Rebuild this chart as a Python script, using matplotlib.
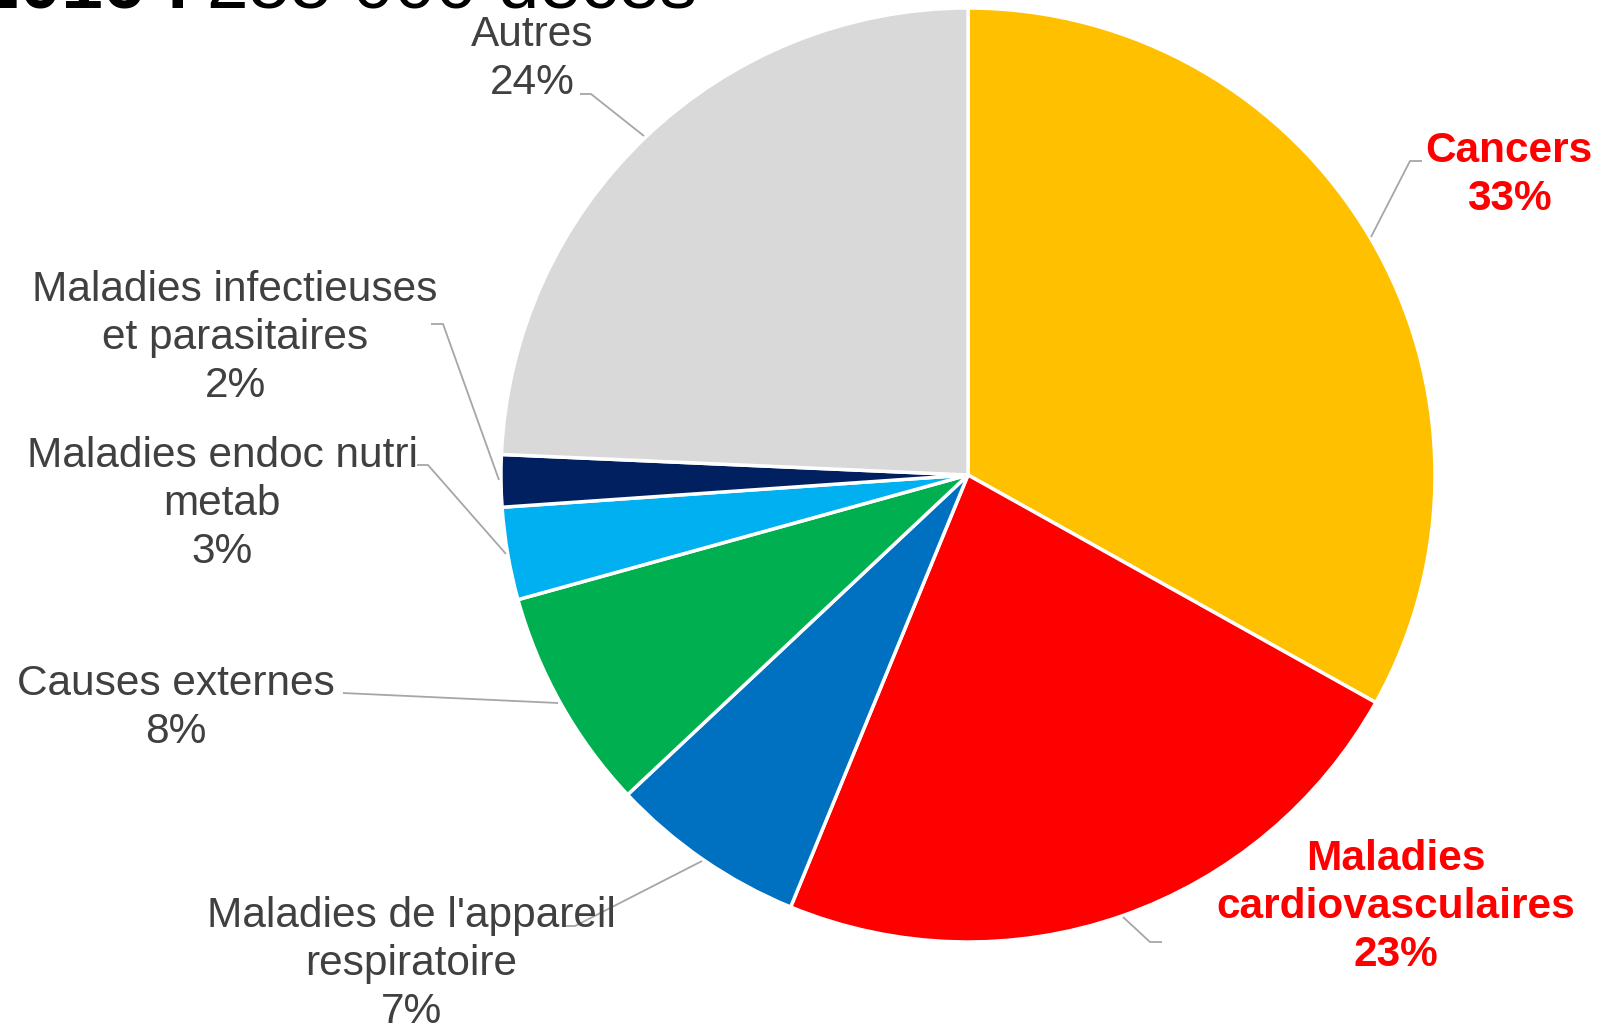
import matplotlib
matplotlib.use("Agg")
import matplotlib.pyplot as plt

W, H = 1601, 1027

categories = ["Cancers", "Maladies\ncardiovasculaires", "Maladies de l'appareil\nrespiratoire",
              "Causes externes", "Maladies endoc nutri\nmetab", "Maladies infectieuses\net parasitaires",
              "Autres"]
values = [33.1, 23.1, 6.8, 7.7, 3.2, 1.8, 24.3]
colors = ["#FFC000", "#FF0000", "#0070C0", "#00B050", "#00B0F0", "#002060", "#D9D9D9"]
highlight = [True, True, False, False, False, False, False]

# label layout (pixel coordinates from top-left)
label_pos = [(1509, 175), (1396, 907), (411, 964), (176, 708), (222, 504), (235, 338), (532, 59)]
leaders = [
    [(1422, 161), (1410, 161), (1371, 237)],
    [(1162, 942), (1150, 942), (1123, 917)],
    [(566, 926), (575, 926), (702, 861)],
    [(343, 693), (558, 703)],
    [(417, 465), (428, 465), (506, 554)],
    [(431, 324), (443, 324), (499, 480)],
    [(580, 94), (591, 94), (644, 136)],
]

plt.rcParams['font.family'] = ['Liberation Sans', 'DejaVu Sans']

fig = plt.figure(figsize=(W / 100, H / 100), dpi=100)
ax = fig.add_axes([0, 0, 1, 1])

def py(y):
    return H - y

ax.pie(values, colors=colors, startangle=90, counterclock=False,
       center=(968, py(475)), radius=467,
       wedgeprops=dict(edgecolor="white", linewidth=2.5))

total = sum(values)
for cat, v, hl, (x, y), pts in zip(categories, values, highlight, label_pos, leaders):
    txt = f"{cat}\n{round(v / total * 100):d}%"
    ax.text(x, py(y), txt, ha="center", va="center", fontsize=30.5,
            color="#FF0000" if hl else "#404040",
            fontweight="bold" if hl else "normal", linespacing=1.27)
    xs = [p[0] for p in pts]
    ys = [py(p[1]) for p in pts]
    ax.plot(xs, ys, color="#A6A6A6", lw=1.3, solid_capstyle="butt")

# title, cut off at top of the image
ax.text(190, py(8), "2016 :", ha="right", va="baseline", fontsize=53.8,
        fontweight="bold", color="black")
ax.text(207, py(8), "255 000 décès", ha="left", va="baseline", fontsize=53.8,
        color="black")

ax.set_xlim(0, W)
ax.set_ylim(0, H)
ax.set_aspect("equal")
ax.axis("off")

fig.savefig("out.png", dpi=100)
